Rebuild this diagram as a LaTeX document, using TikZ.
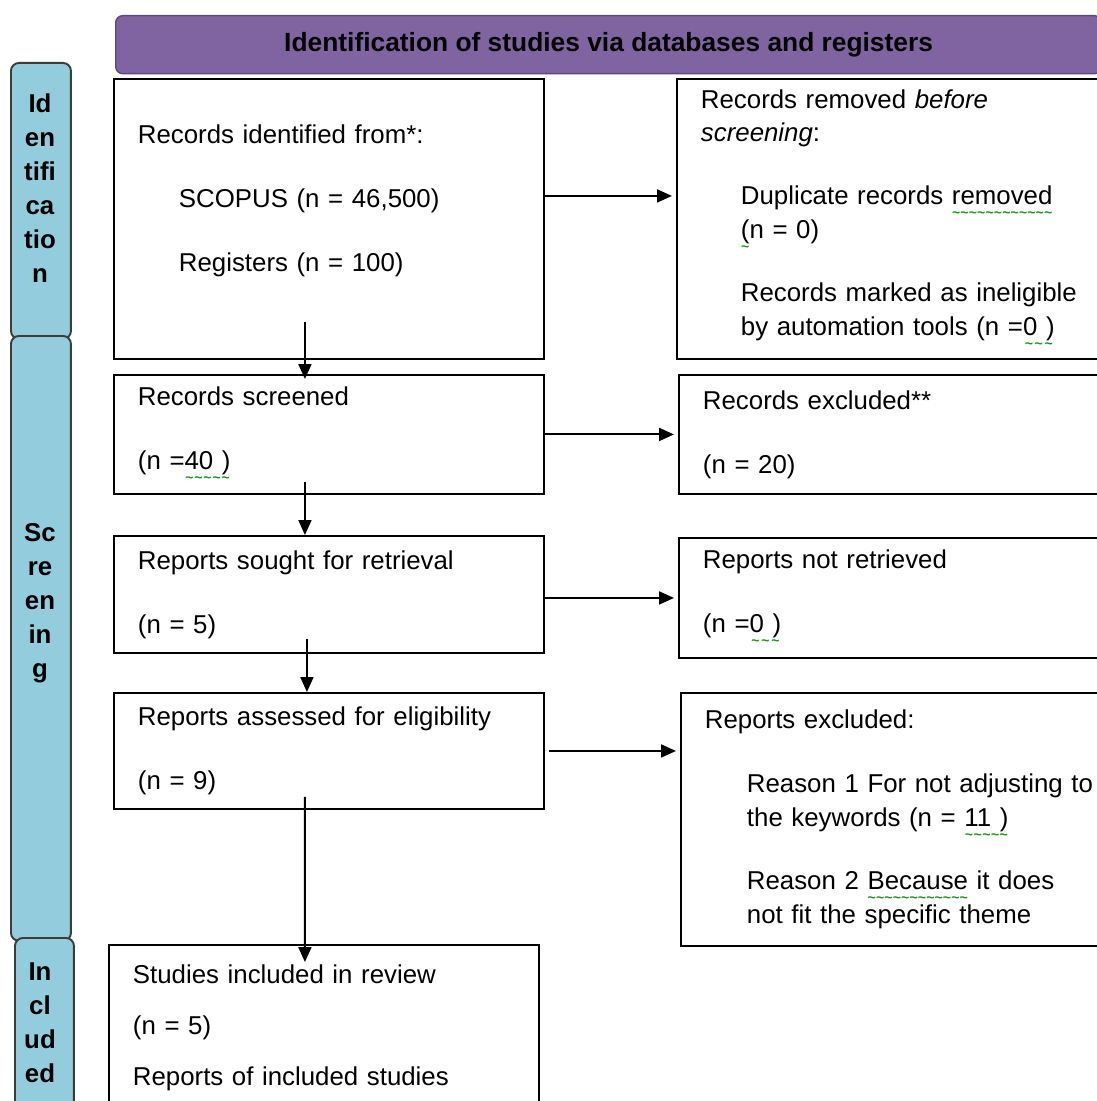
\documentclass[tikz,border=0pt]{standalone}
\usepackage{fontspec}
\setmainfont{Liberation Sans}
\usetikzlibrary{arrows.meta}

\definecolor{headpurple}{RGB}{128,100,162}
\definecolor{headline}{RGB}{92,72,122}
\definecolor{barblue}{RGB}{147,205,221}
\definecolor{barline}{RGB}{60,60,60}
\definecolor{squig}{RGB}{30,150,30}
\newsavebox{\wavybox}
\newcommand{\wavy}[1]{\sbox{\wavybox}{#1}\rlap{\raisebox{-0.5em}{\color{squig}\hbox to \wd\wavybox{\xleaders\hbox{\fontsize{8pt}{8pt}\selectfont\bfseries\char"7E}\hfill}}}\usebox{\wavybox}}

\begin{document}
\begin{tikzpicture}[x=0.02cm, y=-0.02cm,
  box/.style = {draw, line width=1.1pt, anchor=north west, align=left,
    inner xsep=0.48cm, inner ysep=0pt, font=\fontsize{14.7pt}{19.3pt}\selectfont},
  head/.style = {draw=headline, fill=headpurple, line width=0.8pt, rounded corners=0.14cm,
    anchor=north west, font=\fontsize{15pt}{19.3pt}\selectfont\bfseries},
  bar/.style = {draw=barline, fill=barblue, line width=1.1pt, rounded corners=0.16cm,
    anchor=north west, inner sep=0pt},
  bartxt/.style = {align=center, anchor=north, inner sep=0pt,
    font=\fontsize{14.7pt}{0.68cm}\selectfont\bfseries},
  flow/.style = {line width=1.1pt, -{Triangle[length=0.3cm,width=0.26cm]}}]
\useasboundingbox (0,0) rectangle (1096,1101);

% title and phases
\node[head, minimum width=19.72cm, minimum height=1.16cm] (titulo) at (115,15) {Identification of studies via databases and registers};

\node[bar, minimum width=1.2cm, minimum height=5.52cm] (idbar) at (10,62) {};
\node[bar, minimum width=1.2cm, minimum height=12.1cm] (scbar) at (10,335) {};
\node[bar, minimum width=1.18cm, minimum height=3.8cm] (inbar) at (14,937) {};
\node[bartxt] (idtxt) at (40,93) {Id\\en\\tifi\\ca\\tio\\n};
\node[bartxt] (sctxt) at (40,523) {Sc\\re\\en\\in\\g};
\node[bartxt] (intxt) at (40,962) {In\\cl\\ud\\ed};

% left column
\node[box, text width=7.64cm, minimum height=5.6cm] (ident) at (113,78) {Records identified from*:\\[0.6cm]\hspace*{0.82cm}SCOPUS (n = 46,500)\\[0.6cm]\hspace*{0.82cm}Registers (n = 100)\\[0.15cm]\mbox{}};
\node[box, text width=7.64cm, minimum height=2.38cm] (screen) at (113,374) {Records screened\\[0.6cm](n =\wavy{40 )}};
\node[box, text width=7.64cm, minimum height=2.34cm] (sought) at (113,535) {Reports sought for retrieval\\[0.6cm](n = 5)};
\node[box, text width=7.64cm, minimum height=2.32cm] (assess) at (113,692) {Reports assessed for eligibility\\[0.6cm](n = 9)};
\node[box, text width=7.64cm, minimum height=3.3cm] (incl) at (108,944) {Studies included in review\\[0.34cm](n = 5)\\[0.34cm]Reports of included studies};

% right column
\node[box, text width=8.32cm, minimum height=5.6cm] (removed) at (676,78) {Records removed \textit{before}\\\textit{screening}:\\[0.58cm]\hspace*{0.8cm}Duplicate records \wavy{removed}\\\hspace*{0.8cm}\wavy{(}n = 0)\\[0.58cm]\hspace*{0.8cm}Records marked as ineligible\\\hspace*{0.8cm}by automation tools (n =\wavy{0 )}};
\node[box, text width=8.32cm, minimum height=2.38cm] (excl) at (678,374) {Records excluded**\\[0.6cm](n = 20)};
\node[box, text width=8.32cm, minimum height=2.4cm] (notret) at (678,537) {Reports not retrieved\\[0.6cm](n =\wavy{0 )}};
\node[box, text width=8.32cm, minimum height=5.06cm] (rexcl) at (680,692) {Reports excluded:\\[0.6cm]\hspace*{0.84cm}Reason 1 For not adjusting to\\\hspace*{0.84cm}the keywords (n = \wavy{11 )}\\[0.58cm]\hspace*{0.84cm}Reason 2 \wavy{Because} it does\\\hspace*{0.84cm}not fit the specific theme};

% arrows
\draw[flow, shorten >=0.08cm] ([yshift=0.46cm]ident.east) -- ([yshift=0.46cm]ident.east -| removed.west);
\draw[flow, shorten >=0.08cm] (screen.east) -- (screen.east -| excl.west);
\draw[flow, shorten >=0.08cm] (notret.west -| sought.east) -- (notret.west);
\draw[flow, shorten >=0.08cm] ([xshift=0.08cm]assess.east) -- (assess.east -| rexcl.west);

\draw[flow] ([xshift=-0.48cm,yshift=0.76cm]ident.south) -- ([xshift=-0.48cm,yshift=-0.1cm]screen.north);
\draw[flow] ([xshift=-0.48cm,yshift=0.26cm]screen.south) -- ([xshift=-0.48cm]sought.north);
\draw[flow] ([xshift=-0.44cm,yshift=0.3cm]sought.south) -- ([xshift=-0.44cm]assess.north);
\draw[flow] ([xshift=-0.48cm,yshift=0.26cm]assess.south) -- ([xshift=-0.38cm,yshift=-0.36cm]incl.north);
\end{tikzpicture}
\end{document}
